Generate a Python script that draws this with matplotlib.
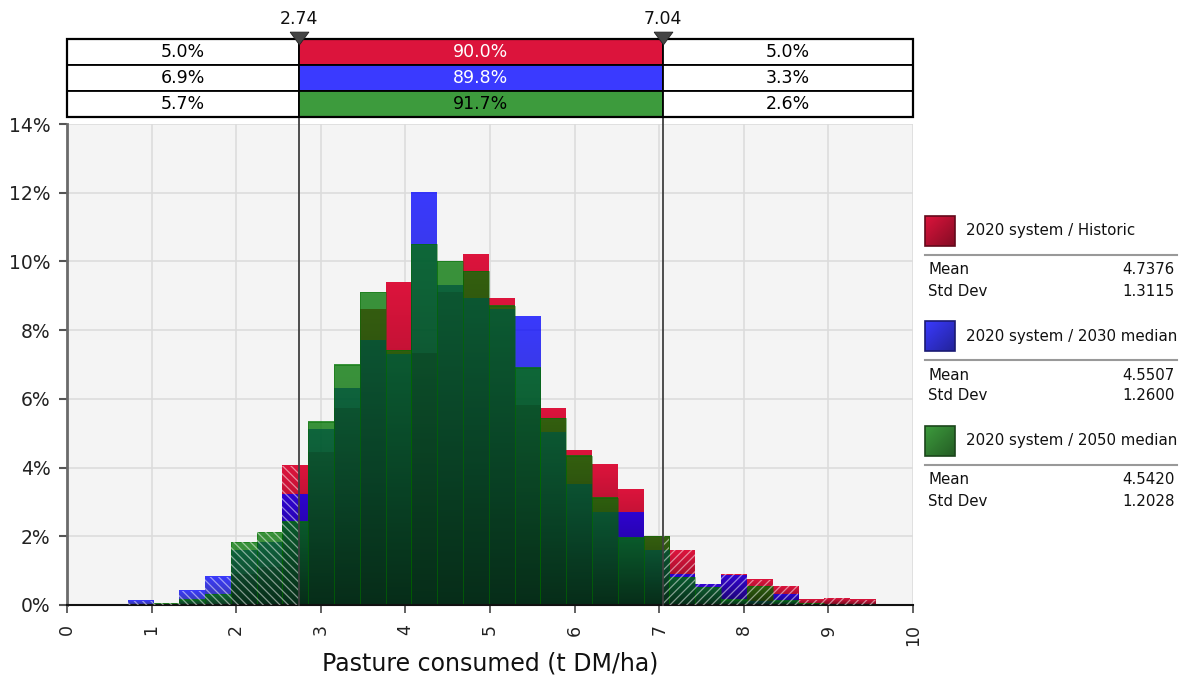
import numpy as np
import matplotlib
matplotlib.use('Agg')
import matplotlib.pyplot as plt
from matplotlib.patches import Rectangle
from matplotlib.path import Path

# ---------------- data ----------------
bin_start = 0.717
bin_width = 0.3049
n_bins = 29
historic = [0, 0, 0, 0, 0.9, 1.1, 4.05, 4.43, 5.73, 8.6, 9.4, 7.33, 9.1, 10.2, 8.93,
            5.82, 5.73, 4.51, 4.1, 3.35, 2.0, 1.6, 0.6, 0.9, 0.73, 0.55, 0.15, 0.2, 0.15]
median2030 = [0.13, 0, 0.41, 0.82, 1.6, 1.83, 3.23, 5.12, 6.3, 7.7, 7.3, 12.0, 9.3, 8.93, 8.61,
              8.41, 5.03, 3.5, 2.7, 2.7, 1.6, 0.9, 0.61, 0.85, 0.1, 0.32, 0, 0, 0]
median2050 = [0, 0.05, 0.16, 0.32, 1.83, 2.12, 2.42, 5.33, 7.0, 9.1, 7.42, 10.5, 10.0, 9.72, 8.71,
              6.9, 5.44, 4.34, 3.12, 1.96, 2.0, 0.81, 0.52, 0.15, 0.55, 0.12, 0.05, 0, 0]
series_names = ['2020 system / Historic', '2020 system / 2030 median', '2020 system / 2050 median']
means = ['4.7376', '4.5507', '4.5420']
stds = ['1.3115', '1.2600', '1.2028']
lo_mark, hi_mark = 2.74, 7.04
left_pct = ['5.0%', '6.9%', '5.7%']
mid_pct = ['90.0%', '89.8%', '91.7%']
right_pct = ['5.0%', '3.3%', '2.6%']
x_ticks = list(range(0, 11))
y_ticks = [0, 2, 4, 6, 8, 10, 12, 14]
x_label = 'Pasture consumed (t DM/ha)'

# ---------------- style ----------------
plt.rcParams['font.family'] = ['DejaVu Sans']
plt.rcParams['hatch.linewidth'] = 0.9
layer_rgb = [(220, 20, 60), (0, 0, 255), (2, 118, 3)]
layer_alpha = [1.0, 0.77, 0.77]
ui_colors = ['#DC143C', '#3A3AFF', '#3D9B3D']
text_colors = ['white', 'white', 'black']

W, H = 1186, 684
fig = plt.figure(figsize=(W / 100, H / 100), dpi=100)
ax_l, ax_r, ax_t, ax_b = 67, 913, 124, 605
ax = fig.add_axes([ax_l / W, 1 - ax_b / H, (ax_r - ax_l) / W, (ax_b - ax_t) / H])
ax.set_facecolor('#F4F4F4')

lefts = bin_start + bin_width * np.arange(n_bins)
series = [historic, median2030, median2050]


def gradient_bars(axis, xs, hs, width, rgb, alpha, z):
    n = 128
    t = np.linspace(1.0, 0.5, n)[:, None, None]
    img = np.zeros((n, 1, 4))
    img[..., :3] = (np.array(rgb) / 255.0)[None, None, :] * t
    img[..., 3] = alpha
    for x0, h in zip(xs, hs):
        if h <= 0:
            continue
        axis.imshow(img, extent=(x0, x0 + width, 0, h), origin='upper', aspect='auto',
                    interpolation='nearest', zorder=z)


for i, vals in enumerate(series):
    gradient_bars(ax, lefts, vals, bin_width, layer_rgb[i], layer_alpha[i], 2 + i * 0.1)

# thin bar edges for the top (green) layer
ax.bar(lefts, median2050, width=bin_width, align='edge', facecolor='none',
       edgecolor=(0, 0.42, 0, 0.5), linewidth=0.6, zorder=2.35)

# hatching outside the marked interval
envelope = np.maximum.reduce([np.array(s, float) for s in series])
for (x0, x1, hatch) in [(0, lo_mark, '\\\\\\\\'), (hi_mark, 10, '////')]:
    bars = ax.bar(lefts, envelope, width=bin_width, align='edge', facecolor='none',
                  edgecolor=(1, 1, 1, 0.5), linewidth=0, hatch=hatch, zorder=3)
    clip = Rectangle((x0, 0), x1 - x0, 14, transform=ax.transData)
    for b in bars:
        b.set_clip_path(clip)

ax.set_xlim(0, 10)
ax.set_ylim(0, 14)
ax.set_xticks(x_ticks)
ax.set_xticklabels([str(v) for v in x_ticks], rotation=90)
ax.set_yticks(y_ticks)
ax.set_yticklabels([f'{v}%' for v in y_ticks])
ax.grid(True, color='#DCDCDC', linewidth=1.2)
ax.set_axisbelow(True)
for s in ['top', 'right']:
    ax.spines[s].set_visible(False)
ax.spines['left'].set_color('#6A6A6A')
ax.spines['left'].set_linewidth(2)
ax.spines['bottom'].set_color('#111111')
ax.spines['bottom'].set_linewidth(1.5)
ax.tick_params(axis='y', length=6, width=1.5, color='#555555', pad=6, labelsize=13.5, labelcolor='#222222')
ax.tick_params(axis='x', length=6, width=1.3, color='#555555', pad=8, labelsize=12.5, labelcolor='#222222')

for xm in (lo_mark, hi_mark):
    ax.axvline(xm, ymin=0, ymax=1 + 8 / (ax_b - ax_t), color='#404040', lw=1.3,
               clip_on=False, zorder=6)

fig.text(((ax_l + ax_r) / 2) / W, 1 - 671 / H, x_label, ha='center', va='baseline',
         fontsize=17, color='#111111')

# ---------------- table on top ----------------
t_top, t_bot = 39, 117
tax = fig.add_axes([ax_l / W, 1 - t_bot / H, (ax_r - ax_l) / W, (t_bot - t_top) / H])
tax.set_xlim(0, 10)
tax.set_ylim(0, 3)
tax.axis('off')
for r in range(3):
    y0 = 2 - r
    cells = [(0, lo_mark, 'white', left_pct[r], 'black'),
             (lo_mark, hi_mark, ui_colors[r], mid_pct[r], text_colors[r]),
             (hi_mark, 10, 'white', right_pct[r], 'black')]
    for (a, b, fc, txt, tc) in cells:
        tax.add_patch(Rectangle((a, y0), b - a, 1, facecolor=fc, edgecolor='black',
                                linewidth=1.3, clip_on=False))
        tax.text((a + b) / 2, y0 + 0.5, txt, ha='center', va='center', fontsize=12.5, color=tc)
tax.add_patch(Rectangle((0, 0), 10, 3, facecolor='none', edgecolor='black', linewidth=1.6,
                        clip_on=False))
tri = Path([(-1, 0.68), (1, 0.68), (0, -0.68), (-1, 0.68)])
for xm in (lo_mark, hi_mark):
    tax.plot([xm], [3.03], marker=tri, markersize=13.5, color='#454545',
             markeredgecolor='#222222', markeredgewidth=0.6, clip_on=False, zorder=5)
    tax.text(xm, 3.75, f'{xm:.2f}', ha='center', va='center', fontsize=12.5, color='#111111')

# ---------------- legend on right ----------------
lax = fig.add_axes([0, 0, 1, 1], zorder=10)
lax.set_xlim(0, W)
lax.set_ylim(H, 0)
lax.axis('off')
n = 40
gi, gj = np.mgrid[0:n, 0:n]
shade = 1 - 0.4 * (gi + gj) / (2 * (n - 1))
for k in range(3):
    y = 216 + 105 * k
    base = np.array(matplotlib.colors.to_rgb(ui_colors[k]))
    img = base[None, None, :] * shade[..., None]
    lax.imshow(img, extent=(925, 955, y + 30, y), origin='upper', aspect='auto',
               interpolation='bilinear', zorder=1)
    lax.add_patch(Rectangle((925, y), 30, 30, facecolor='none',
                            edgecolor=tuple(base * 0.45), linewidth=1.2, zorder=2))
    lax.text(966, y + 15, series_names[k], ha='left', va='center', fontsize=10.8, color='#111111')
    lax.plot([925, 1177], [y + 39, y + 39], color='#999999', lw=1.5)
    lax.text(928, y + 54, 'Mean', ha='left', va='center', fontsize=10.8, color='#111111')
    lax.text(1175, y + 54, means[k], ha='right', va='center', fontsize=10.8, color='#111111')
    lax.text(928, y + 75, 'Std Dev', ha='left', va='center', fontsize=10.8, color='#111111')
    lax.text(1175, y + 75, stds[k], ha='right', va='center', fontsize=10.8, color='#111111')
lax.set_xlim(0, W)
lax.set_ylim(H, 0)

fig.savefig('out.png', dpi=100)
